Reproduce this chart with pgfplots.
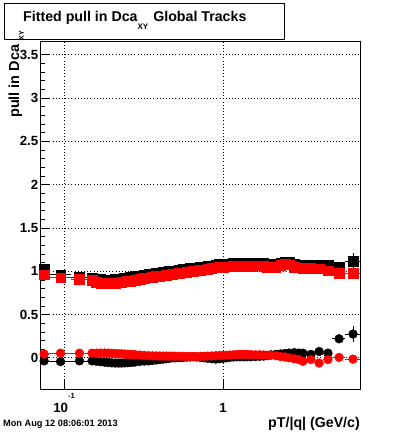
\documentclass[border=0pt]{standalone}
\usepackage{pgfplots}
\pgfplotsset{compat=1.18}
\usepackage{pgfplotstable}
\usepackage{fontspec}
\setmainfont{Liberation Sans}

% x  xe  bs bse  rs rse  bc bce  rc rce
\pgfplotstableread{
x     xe     bs     bse    rs     rse    bc      bce    rc      rce
0.075 0.005  1.030  0.010  0.960  0.010  -0.035  0.008  0.043   0.008
0.095 0.015  0.960  0.008  0.925  0.008  -0.043  0.006  0.054   0.006
0.125 0.015  0.935  0.006  0.910  0.006  -0.035  0.005  0.054   0.005
0.15  0.010  0.925  0.005  0.900  0.005  -0.035  0.005  0.054   0.005
0.16  0.005  0.910  0.005  0.875  0.005  -0.040  0.004  0.054   0.004
0.17  0.005  0.905  0.005  0.865  0.005  -0.045  0.004  0.055   0.004
0.18  0.005  0.900  0.005  0.860  0.005  -0.050  0.004  0.055   0.004
0.19  0.005  0.898  0.005  0.858  0.005  -0.055  0.004  0.054   0.004
0.20  0.005  0.900  0.005  0.860  0.005  -0.058  0.004  0.052   0.004
0.21  0.005  0.905  0.005  0.865  0.005  -0.060  0.004  0.050   0.004
0.22  0.005  0.908  0.005  0.868  0.005  -0.060  0.004  0.048   0.004
0.23  0.005  0.912  0.005  0.872  0.005  -0.060  0.004  0.046   0.004
0.24  0.005  0.918  0.005  0.878  0.005  -0.058  0.004  0.044   0.004
0.25  0.005  0.922  0.005  0.882  0.005  -0.056  0.004  0.042   0.004
0.26  0.005  0.928  0.005  0.888  0.005  -0.053  0.004  0.040   0.004
0.27  0.005  0.933  0.005  0.893  0.005  -0.050  0.004  0.038   0.004
0.28  0.005  0.940  0.005  0.900  0.005  -0.048  0.004  0.036   0.004
0.30  0.010  0.950  0.005  0.910  0.005  -0.042  0.004  0.032   0.004
0.32  0.010  0.960  0.005  0.920  0.005  -0.038  0.004  0.028   0.004
0.34  0.010  0.965  0.005  0.925  0.005  -0.035  0.004  0.025   0.004
0.36  0.010  0.970  0.005  0.930  0.005  -0.030  0.004  0.023   0.004
0.38  0.010  0.980  0.005  0.940  0.005  -0.025  0.004  0.022   0.004
0.40  0.010  0.985  0.005  0.945  0.005  -0.020  0.004  0.021   0.004
0.42  0.010  0.990  0.005  0.950  0.005  -0.015  0.004  0.020   0.004
0.44  0.010  0.995  0.005  0.955  0.005  -0.010  0.004  0.020   0.004
0.46  0.010  1.000  0.005  0.960  0.005  -0.005  0.004  0.020   0.004
0.48  0.010  1.004  0.005  0.965  0.005   0.000  0.004  0.019   0.004
0.50  0.010  1.008  0.005  0.970  0.005   0.000  0.004  0.019   0.004
0.53  0.015  1.015  0.005  0.978  0.005   0.002  0.004  0.018   0.004
0.56  0.015  1.022  0.005  0.985  0.005   0.005  0.004  0.017   0.004
0.59  0.015  1.027  0.005  0.990  0.005   0.008  0.004  0.016   0.004
0.62  0.015  1.032  0.005  0.995  0.005   0.010  0.004  0.015   0.004
0.65  0.015  1.037  0.005  1.000  0.005   0.012  0.004  0.015   0.004
0.68  0.015  1.042  0.005  1.005  0.005   0.010  0.004  0.016   0.004
0.72  0.020  1.048  0.005  1.012  0.005   0.005  0.004  0.017   0.004
0.76  0.020  1.055  0.005  1.020  0.005   0.000  0.004  0.018   0.004
0.80  0.020  1.060  0.005  1.025  0.005  -0.005  0.004  0.020   0.004
0.85  0.025  1.066  0.005  1.032  0.005  -0.010  0.004  0.022   0.004
0.90  0.025  1.074  0.005  1.040  0.005  -0.015  0.004  0.025   0.004
0.95  0.025  1.079  0.005  1.045  0.005  -0.010  0.004  0.027   0.004
1.00  0.025  1.084  0.005  1.050  0.005  -0.005  0.004  0.028   0.004
1.05  0.025  1.086  0.005  1.052  0.005   0.000  0.004  0.030   0.004
1.10  0.025  1.089  0.005  1.055  0.005   0.005  0.004  0.032   0.004
1.16  0.030  1.092  0.005  1.058  0.005   0.010  0.004  0.035   0.004
1.22  0.030  1.094  0.005  1.060  0.005   0.012  0.004  0.038   0.004
1.28  0.030  1.094  0.005  1.060  0.005   0.012  0.004  0.040   0.004
1.35  0.030  1.096  0.005  1.062  0.005   0.012  0.004  0.040   0.004
1.42  0.030  1.094  0.005  1.060  0.005   0.012  0.004  0.040   0.004
1.50  0.050  1.092  0.005  1.058  0.005   0.012  0.005  0.038   0.005
1.60  0.050  1.096  0.005  1.062  0.005   0.015  0.005  0.035   0.005
1.70  0.050  1.099  0.005  1.065  0.005   0.018  0.005  0.035   0.005
1.80  0.050  1.095  0.006  1.060  0.006   0.020  0.005  0.033   0.005
1.90  0.050  1.085  0.006  1.045  0.006   0.025  0.005  0.030   0.005
2.00  0.050  1.082  0.006  1.045  0.006   0.035  0.006  0.030   0.006
2.15  0.075  1.085  0.007  1.050  0.007   0.040  0.006  0.025   0.006
2.30  0.075  1.100  0.007  1.070  0.007   0.045  0.006  0.015   0.006
2.45  0.075  1.110  0.008  1.080  0.008   0.050  0.007  0.010   0.007
2.60  0.075  1.105  0.008  1.075  0.008   0.055  0.007  0.000   0.007
2.80  0.100  1.085  0.009  1.050  0.009   0.060  0.008  -0.010  0.008
3.00  0.100  1.075  0.010  1.040  0.010   0.055  0.009  -0.020  0.009
3.18  0.150  1.072  0.011  1.035  0.011   0.054  0.010  -0.040  0.010
3.57  0.200  1.070  0.012  1.035  0.012   0.040  0.012  -0.020  0.012
4.02  0.250  1.068  0.014  1.030  0.014   0.073  0.014  -0.060  0.014
4.57  0.300  1.070  0.020  1.005  0.018   0.054  0.020  -0.020  0.018
5.37  0.500  1.055  0.030  0.980  0.025   0.220  0.050   0.005  0.025
6.57  0.700  1.115  0.100  0.980  0.040   0.275  0.095  -0.015  0.040
}\datatable

\begin{document}
\begin{tikzpicture}[x=1pt,y=1pt]
\useasboundingbox (-40,-44) rectangle (360,389);
\fill[white] (-40,-44) rectangle (360,389);
\begin{axis}[
  at={(0,0)}, anchor=south west,
  scale only axis, width=320pt, height=348pt,
  xmode=log, log basis x=10,
  xmin=0.0706, xmax=7.27, ymin=-0.36, ymax=3.66,
  xtick={0.1,1},
  xticklabels={{10\raisebox{14pt}{\fontsize{7.5}{8}\selectfont -1}\hspace{-4pt}},{1}},
  ytick={0,0.5,1,1.5,2,2.5,3,3.5},
  yticklabels={0,0.5,1,1.5,2,2.5,3,3.5},
  minor y tick num=4,
  tick align=inside, xtick pos=bottom, ytick pos=left,
  major tick length=10pt, minor tick length=5pt,
  xmajorgrids, xminorgrids, ymajorgrids,
  grid style={black, line width=0.75pt, dash pattern=on 0.75pt off 2.4pt},
  minor grid style={black, line width=0.75pt, dash pattern=on 0.75pt off 2.4pt},
  axis line style={black, line width=0.8pt},
  every tick/.style={black, line width=0.7pt},
  ticklabel style={font=\fontsize{13.3}{13.3}\selectfont\bfseries},
  yticklabel style={inner xsep=1.5pt},
  xticklabel style={anchor=base, yshift=-23pt, inner sep=0pt},
  clip=true,
]
% black squares
\addplot[only marks, mark=square*, mark size=4.8pt, black, mark options={draw=none, fill=black},
  error bars/.cd, x dir=both, x explicit, y dir=both, y explicit,
  error bar style={black, line width=0.7pt}, error mark=none]
  table[x=x, y=bs, x error=xe, y error=bse] {\datatable};
% black circles
\addplot[only marks, mark=*, mark size=4.4pt, black, mark options={draw=none, fill=black},
  error bars/.cd, x dir=both, x explicit, y dir=both, y explicit,
  error bar style={black, line width=0.7pt}, error mark=none]
  table[x=x, y=bc, x error=xe, y error=bce] {\datatable};
% red squares
\addplot[only marks, mark=square*, mark size=4.8pt, red, mark options={draw=none, fill=red},
  error bars/.cd, x dir=both, x explicit, y dir=both, y explicit,
  error bar style={red, line width=0.7pt}, error mark=none]
  table[x=x, y=rs, x error=xe, y error=rse] {\datatable};
% red circles
\addplot[only marks, mark=*, mark size=4.4pt, red, mark options={draw=none, fill=red},
  error bars/.cd, x dir=both, x explicit, y dir=both, y explicit,
  error bar style={red, line width=0.7pt}, error mark=none]
  table[x=x, y=rc, x error=xe, y error=rce] {\datatable};
\end{axis}
% title box
\draw[black, line width=0.8pt, fill=white] (-36,350) rectangle (244,386);
\node[anchor=base west, inner sep=0pt] at (-17,367)
  {\fontsize{14.2}{15}\selectfont\bfseries Fitted pull in Dca\raisebox{-8pt}{\fontsize{8}{9}\selectfont XY}\hspace{5pt}Global Tracks};
% y label
\node[rotate=90, anchor=base east, inner sep=0pt] at (-21,358)
  {\fontsize{14.5}{15}\selectfont\bfseries pull in Dca\hspace{4pt}\raisebox{-5pt}{\fontsize{7}{8}\selectfont XY}};
% x label
\node[anchor=base east, inner sep=0pt] at (320,-38)
  {\fontsize{14.2}{15}\selectfont\bfseries pT/|q| (GeV/c)};
% date
\node[anchor=base west, inner sep=0pt] at (-37,-37)
  {\fontsize{9.2}{10}\selectfont\bfseries Mon Aug 12 08:06:01 2013};
\end{tikzpicture}
\end{document}
